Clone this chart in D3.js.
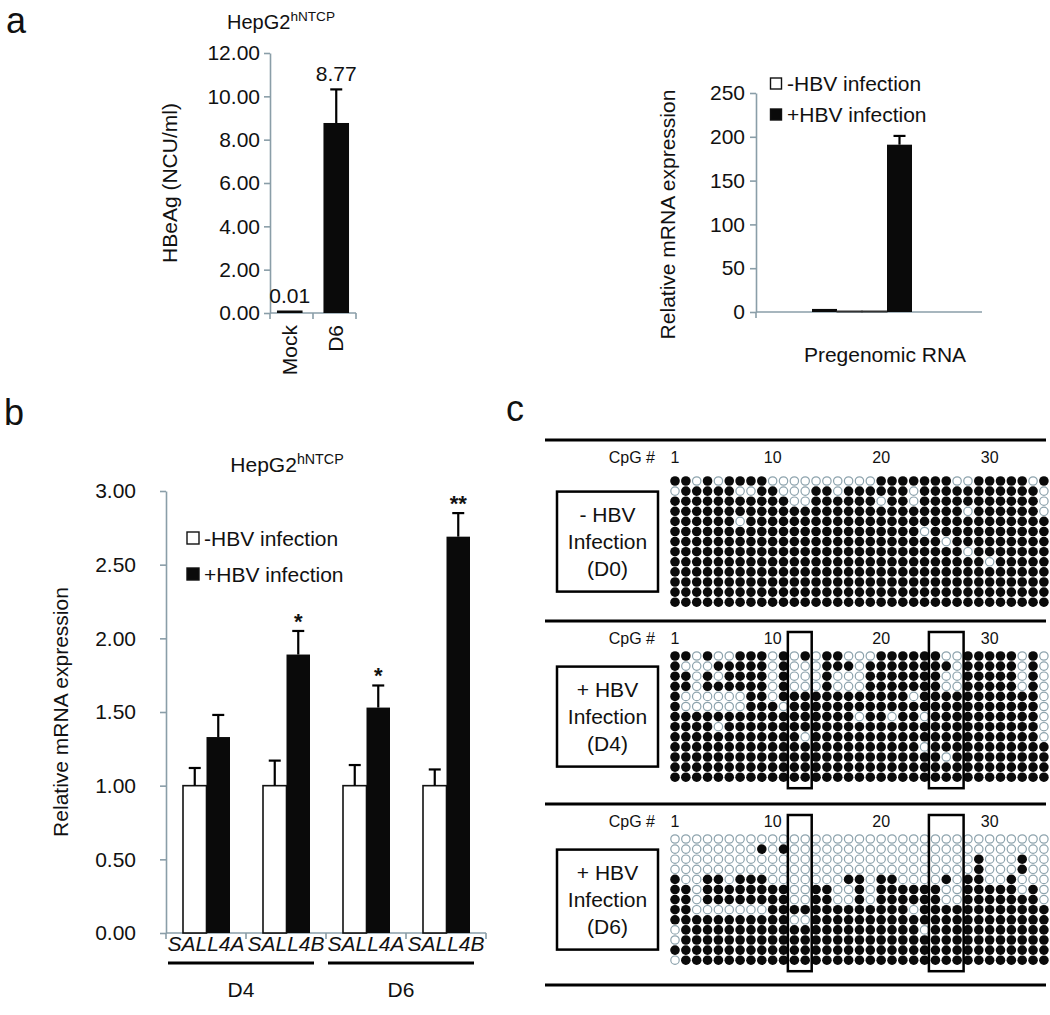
<!DOCTYPE html>
<html><head><meta charset="utf-8">
<script src="https://cdn.jsdelivr.net/npm/d3@7"></script>
<style>
body{margin:0;background:#fff}
text{font-family:"Liberation Sans",Arial,sans-serif;fill:#111}
</style>
</head><body><script>
// ---------------- DATA ----------------
const heCategories = ["Mock", "D6"];
const heValues = [0.01, 8.77];
const heErrors = [0.08, 1.55];
const heTicks = [0, 2, 4, 6, 8, 10, 12];

const pgSlots = ["a+", "a-", "b-", "b+"];
const pgSeries = ["plus", "minus", "minus", "plus"];
const pgValues = [3.5, 0.8, 0.8, 191];
const pgErrors = [0, 0, 0, 10];
const pgTicks = [0, 50, 100, 150, 200, 250];
const pgLabel = "Pregenomic RNA";

const salCategories = ["SALL4A", "SALL4B", "SALL4A", "SALL4B"];
const salDays = ["D4", "D6"];
const salMinus = [1, 1, 1, 1];
const salMinusErr = [0.12, 0.17, 0.14, 0.11];
const salPlus = [1.33, 1.89, 1.53, 2.69];
const salPlusErr = [0.15, 0.16, 0.15, 0.16];
const salSignif = ["", "*", "*", "**"];
const salTicks = [0, 0.5, 1, 1.5, 2, 2.5, 3];

const legendLabels = ["-HBV infection", "+HBV infection"];

const cpgLabels = [1, 10, 20, 30];
const groupTitles = [["- HBV", "Infection", "(D0)"], ["+ HBV", "Infection", "(D4)"], ["+ HBV", "Infection", "(D6)"]];
// 1 = methylated (filled), 0 = unmethylated (open); 35 CpG sites x 13 clones
const gridD0 = [
  "11010 11110 00000 00001 11111 10011 11101",
  "01111 10011 00011 01111 11011 11111 11110",
  "11111 11111 10011 11110 11011 11111 11110",
  "11111 11111 11111 11111 11111 11011 11110",
  "11111 10111 11111 11111 11111 11111 11111",
  "11111 11111 11111 11111 11101 11111 11111",
  "11111 11111 11111 11111 11111 01111 11111",
  "11111 11111 11111 11111 11111 11011 11111",
  "11111 11111 11111 11111 11111 11110 11111",
  "11111 11111 11111 11111 11111 11111 11111",
  "11111 11111 11111 11111 11111 11111 11111",
  "11111 11111 11111 11111 11111 11111 11111",
  "11111 11111 11111 11111 11111 11111 11111"
];
const gridD4 = [
  "11010 01110 10101 10001 11111 00111 11010",
  "10001 11110 10001 11011 11111 10111 11010",
  "11010 11110 10001 00011 11111 00111 11010",
  "11011 11110 10001 00011 11111 00111 11010",
  "10000 00110 11111 11111 11011 11111 11110",
  "10000 00111 01111 11111 11111 11111 11110",
  "11111 11111 11111 11011 01101 11111 11110",
  "11110 11111 11111 11111 11111 11111 11110",
  "11111 11111 11011 11111 11111 11111 11110",
  "11111 11111 11111 11111 11101 11111 11111",
  "11111 11111 11111 11111 11111 01111 11111",
  "11111 11111 11111 11111 11111 11111 11111",
  "11111 11111 11111 11111 11111 11111 11111"
];
const gridD6 = [
  "00000 00000 00000 00000 00000 00000 00000",
  "00000 00010 10000 00000 00000 00000 00000",
  "00000 00000 00000 00000 00000 00010 00100",
  "00000 00000 00000 00000 00000 00010 00100",
  "10011 01110 00000 01101 10000 10110 01000",
  "11011 11111 10011 00101 11111 00111 11010",
  "11011 11111 10011 00101 11111 00111 11110",
  "11000 00001 11111 11111 11011 11111 11111",
  "11111 11111 10011 11111 11111 11111 11111",
  "01111 11111 11111 11111 11101 11111 11111",
  "01111 11111 11111 11111 11111 11111 11111",
  "11111 11111 11111 11111 11111 11111 11111",
  "01111 11111 11111 11111 11111 11111 11111"
];
const highlightCols = [[12, 13], [25, 27]];

// ---------------- DRAW ----------------
const AX = "#8a9ea8";
const FONT = 21;
const svg = d3.select("body").append("svg").attr("width", 1050).attr("height", 1015);

function styleAxis(g) {
  g.select(".domain").attr("stroke", AX).attr("stroke-width", 1.6);
  g.selectAll(".tick line").attr("stroke", AX).attr("stroke-width", 1.6);
  g.selectAll(".tick text").attr("font-size", FONT).attr("fill", "#111")
    .attr("font-family", "Liberation Sans, Arial, sans-serif");
}
function title(x, y, size) {
  const t = svg.append("text").attr("x", x).attr("y", y).attr("text-anchor", "middle").attr("font-size", size);
  t.append("tspan").text("HepG2");
  t.append("tspan").attr("font-size", size * 0.68).attr("dy", -size * 0.38).text("hNTCP");
}
function errBar(g, x, y0, y1, cap) {
  g.append("line").attr("x1", x).attr("x2", x).attr("y1", y0).attr("y2", y1).attr("stroke", "#000").attr("stroke-width", 2.2);
  g.append("line").attr("x1", x - cap).attr("x2", x + cap).attr("y1", y1).attr("y2", y1).attr("stroke", "#000").attr("stroke-width", 2.2);
}

// panel letters
[["a", 6, 33], ["b", 4, 425], ["c", 506, 421]].forEach(([t, x, y]) =>
  svg.append("text").attr("x", x).attr("y", y).attr("font-size", 36).text(t));

// ===== Panel a (left): HBeAg =====
{
  const g = svg.append("g");
  const y = d3.scaleLinear().domain([0, 12]).range([313, 53]);
  const x = d3.scaleBand().domain(heCategories).range([270, 356]).paddingInner(0.45).paddingOuter(0.15);
  title(281, 29, 20);
  const ya = g.append("g").attr("transform", "translate(270,0)")
    .call(d3.axisLeft(y).tickValues(heTicks).tickFormat(d3.format(".2f")).tickSize(6).tickSizeOuter(0).tickPadding(4));
  styleAxis(ya);
  g.append("line").attr("x1", 270).attr("x2", 356).attr("y1", y(0)).attr("y2", y(0)).attr("stroke", AX).attr("stroke-width", 1.6);
  [270, 313, 356].forEach(v => g.append("line").attr("x1", v).attr("x2", v).attr("y1", y(0)).attr("y2", y(0) + 6).attr("stroke", AX).attr("stroke-width", 1.6));
  g.append("text").attr("transform", `translate(177,${(y(0) + y(12)) / 2}) rotate(-90)`).attr("text-anchor", "middle")
    .attr("font-size", FONT).text("HBeAg (NCU/ml)");
  heCategories.forEach((c, i) => {
    const bx = x(c), bw = x.bandwidth();
    g.append("rect").attr("x", bx).attr("y", Math.min(y(heValues[i]), y(0) - 2.5)).attr("width", bw)
      .attr("height", Math.max(y(0) - y(heValues[i]), 2.5)).attr("fill", "#0a0a0a");
    const top = y(heValues[i] + heErrors[i]);
    if (heErrors[i] > 0.5) errBar(g, bx + bw / 2, y(heValues[i]), top, 6);
    g.append("text").attr("x", bx + bw / 2).attr("y", top - 8).attr("text-anchor", "middle").attr("font-size", FONT)
      .text(d3.format(".2f")(heValues[i]));
    g.append("text").attr("transform", `translate(${bx + bw / 2 + 7},${y(0) + 12}) rotate(-90)`).attr("text-anchor", "end")
      .attr("font-size", FONT).text(c);
  });
}

// ===== Panel a (right): pregenomic RNA =====
{
  const g = svg.append("g");
  const y = d3.scaleLinear().domain([0, 250]).range([312, 93]);
  const x = d3.scaleBand().domain(pgSlots).range([812, 912]);
  const ya = g.append("g").attr("transform", "translate(756,0)")
    .call(d3.axisLeft(y).tickValues(pgTicks).tickSize(6).tickSizeOuter(0).tickPadding(5));
  styleAxis(ya);
  g.append("line").attr("x1", 756).attr("x2", 982).attr("y1", y(0)).attr("y2", y(0)).attr("stroke", AX).attr("stroke-width", 1.6);
  g.append("line").attr("x1", 756).attr("x2", 756).attr("y1", y(0)).attr("y2", y(0) + 6).attr("stroke", AX).attr("stroke-width", 1.6);
  g.append("text").attr("transform", `translate(675,${(y(0) + y(250)) / 2 + 12}) rotate(-90)`).attr("text-anchor", "middle")
    .attr("font-size", FONT).text("Relative mRNA expression");
  pgSlots.forEach((s, i) => {
    const bx = x(s), bw = x.bandwidth();
    const h = Math.max(y(0) - y(pgValues[i]), 1);
    g.append("rect").attr("x", bx).attr("y", y(0) - h).attr("width", bw).attr("height", h)
      .attr("fill", pgSeries[i] === "plus" ? "#0a0a0a" : "#fff")
      .attr("stroke", pgSeries[i] === "plus" ? "none" : "#333").attr("stroke-width", 1);
    if (pgErrors[i] > 0) errBar(g, bx + bw / 2, y(pgValues[i]), y(pgValues[i] + pgErrors[i]), 6);
  });
  g.append("text").attr("x", 885).attr("y", 362).attr("text-anchor", "middle").attr("font-size", FONT).text(pgLabel);
  legendLabels.forEach((l, i) => {
    g.append("rect").attr("x", 770.5).attr("y", 78 + i * 31).attr("width", 11).attr("height", 11)
      .attr("fill", i ? "#0a0a0a" : "#fff").attr("stroke", "#111").attr("stroke-width", 1.4);
    g.append("text").attr("x", 787).attr("y", 91 + i * 31).attr("font-size", FONT).text(l);
  });
}

// ===== Panel b: SALL4 =====
{
  const g = svg.append("g");
  const y = d3.scaleLinear().domain([0, 3]).range([933, 491]);
  const keys = salCategories.map((c, i) => i);
  const x = d3.scaleBand().domain(keys).range([166, 486]);
  const inner = d3.scaleBand().domain(["minus", "plus"]).range([17, 64]);
  title(287, 472, 21);
  const ya = g.append("g").attr("transform", "translate(166,0)")
    .call(d3.axisLeft(y).tickValues(salTicks).tickFormat(d3.format(".2f")).tickSize(6).tickSizeOuter(0).tickPadding(24));
  styleAxis(ya);
  g.append("line").attr("x1", 166).attr("x2", 486).attr("y1", y(0)).attr("y2", y(0)).attr("stroke", AX).attr("stroke-width", 1.6);
  [0, 1, 2, 3].forEach(k => g.append("line").attr("x1", x(k)).attr("x2", x(k)).attr("y1", y(0)).attr("y2", y(0) + 6).attr("stroke", AX).attr("stroke-width", 1.6));
  g.append("line").attr("x1", 486).attr("x2", 486).attr("y1", y(0)).attr("y2", y(0) + 6).attr("stroke", AX).attr("stroke-width", 1.6);
  g.append("text").attr("transform", `translate(68,${(y(0) + y(3)) / 2}) rotate(-90)`).attr("text-anchor", "middle")
    .attr("font-size", FONT).text("Relative mRNA expression");
  keys.forEach(i => {
    const bx0 = x(i) + inner("minus"), bx1 = x(i) + inner("plus"), bw = inner.bandwidth();
    g.append("rect").attr("x", bx0).attr("y", y(salMinus[i])).attr("width", bw).attr("height", y(0) - y(salMinus[i]))
      .attr("fill", "#fff").attr("stroke", "#111").attr("stroke-width", 1.6);
    errBar(g, bx0 + bw / 2, y(salMinus[i]), y(salMinus[i] + salMinusErr[i]), 6);
    g.append("rect").attr("x", bx1).attr("y", y(salPlus[i])).attr("width", bw).attr("height", y(0) - y(salPlus[i]))
      .attr("fill", "#0a0a0a");
    const top = y(salPlus[i] + salPlusErr[i]);
    errBar(g, bx1 + bw / 2, y(salPlus[i]), top, 6);
    if (salSignif[i]) g.append("text").attr("x", bx1 + bw / 2).attr("y", top - 2).attr("text-anchor", "middle")
      .attr("font-size", 22).attr("font-weight", "bold").text(salSignif[i]);
    g.append("text").attr("x", x(i) + x.bandwidth() / 2).attr("y", 951).attr("text-anchor", "middle")
      .attr("font-size", FONT).attr("font-style", "italic").text(salCategories[i]);
  });
  salDays.forEach((d, j) => {
    const x0 = x(j * 2) + 2, x1 = x(j * 2 + 1) + x.bandwidth() - 12;
    g.append("line").attr("x1", x0).attr("x2", x1).attr("y1", 963).attr("y2", 963).attr("stroke", "#000").attr("stroke-width", 3.2);
    g.append("text").attr("x", (x0 + x1) / 2).attr("y", 997).attr("text-anchor", "middle").attr("font-size", FONT).text(d);
  });
  legendLabels.forEach((l, i) => {
    g.append("rect").attr("x", 187).attr("y", 532 + i * 36).attr("width", 12).attr("height", 12)
      .attr("fill", i ? "#0a0a0a" : "#fff").attr("stroke", "#111").attr("stroke-width", 1.4);
    g.append("text").attr("x", 204).attr("y", 546 + i * 36).attr("font-size", FONT).text(l);
  });
}

// ===== Panel c: methylation =====
{
  const g = svg.append("g");
  const grids = [gridD0, gridD4, gridD6];
  const sections = [{ line: 440, row1: 481, hl: false }, { line: 621, row1: 656, hl: true }, { line: 804, row1: 839, hl: true }];
  const bottomLine = 985;
  const rowStep = 10.1;
  const x = d3.scaleLinear().domain([1, 35]).range([675, 675 + 34 * 10.85]);
  [...sections.map(s => s.line), bottomLine].forEach(ly =>
    g.append("line").attr("x1", 545).attr("x2", 1046).attr("y1", ly).attr("y2", ly).attr("stroke", "#000").attr("stroke-width", 3));
  sections.forEach((s, k) => {
    const rows = grids[k].map(r => r.replace(/ /g, ""));
    const y = d3.scaleLinear().domain([1, rows.length]).range([s.row1, s.row1 + (rows.length - 1) * rowStep]);
    g.append("text").attr("x", 655).attr("y", s.line + 23).attr("text-anchor", "end").attr("font-size", 16).text("CpG #");
    cpgLabels.forEach(c => g.append("text").attr("x", x(c)).attr("y", s.line + 23).attr("text-anchor", "middle")
      .attr("font-size", 16).text(c));
    rows.forEach((r, ri) => {
      [...r].forEach((ch, ci) => {
        const filled = ch === "1";
        g.append("circle").attr("cx", x(ci + 1)).attr("cy", y(ri + 1)).attr("r", filled ? 4.8 : 4.2)
          .attr("fill", filled ? "#0a0a0a" : "#fff").attr("stroke", filled ? "none" : "#8da3ad").attr("stroke-width", 1.2);
      });
    });
    const mid = (y(1) + y(rows.length)) / 2;
    g.append("rect").attr("x", 557).attr("y", mid - 50).attr("width", 101).attr("height", 100)
      .attr("fill", "none").attr("stroke", "#000").attr("stroke-width", 2.5);
    groupTitles[k].forEach((t, j) => g.append("text").attr("x", 607.5).attr("y", mid + (j - 1) * 27 + 7)
      .attr("text-anchor", "middle").attr("font-size", 21).text(t));
    if (s.hl) highlightCols.forEach(([c0, c1]) => {
      g.append("rect").attr("x", x(c0) - 6.5).attr("y", s.line + 11).attr("width", x(c1) - x(c0) + 13)
        .attr("height", y(rows.length) + 11 - (s.line + 11)).attr("fill", "none").attr("stroke", "#000").attr("stroke-width", 2.5);
    });
  });
}
</script></body></html>
